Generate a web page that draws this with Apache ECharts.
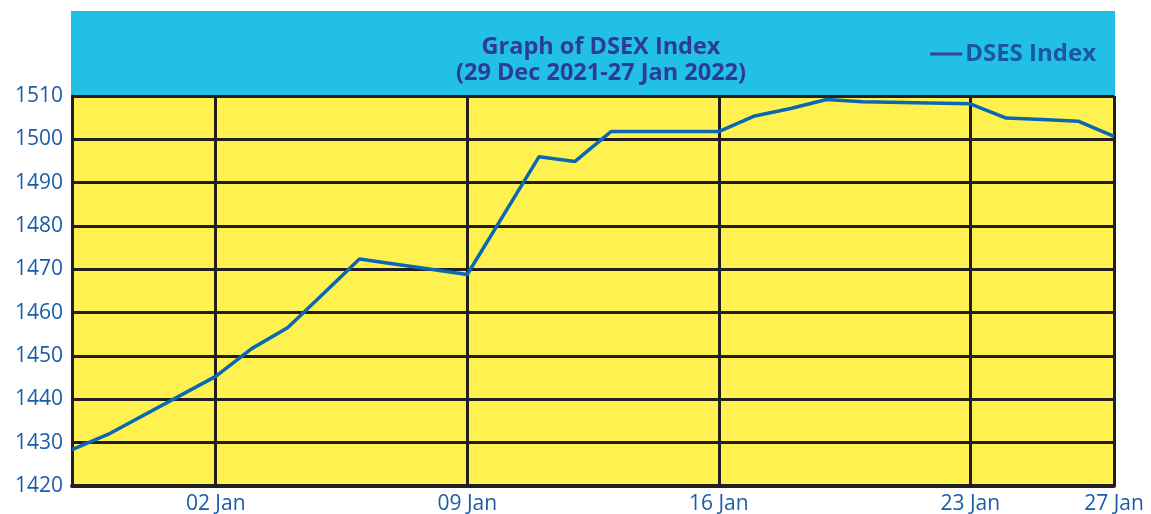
<!DOCTYPE html>
<html><head><meta charset="utf-8">
<script src="https://cdn.jsdelivr.net/npm/echarts@6/dist/echarts.min.js"></script>
<style>html,body{margin:0;padding:0;background:#fff}#c{width:1151px;height:514px}</style>
</head><body><div id="c"></div>
<script>
const dates = ['2021-12-29','2021-12-30','2022-01-02','2022-01-03','2022-01-04','2022-01-05','2022-01-06',
  '2022-01-09','2022-01-10','2022-01-11','2022-01-12','2022-01-13','2022-01-16','2022-01-17','2022-01-18',
  '2022-01-19','2022-01-20','2022-01-23','2022-01-24','2022-01-25','2022-01-26','2022-01-27'];
const dsexValues = [1428.4,1431.9,1445.3,1451.7,1456.5,1464.4,1472.4,
  1468.8,1482.4,1496.0,1494.9,1501.8,1501.8,1505.4,1507.1,
  1509.2,1508.7,1508.2,1504.9,1504.6,1504.2,1500.7];
const xTickDates = ['2022-01-02','2022-01-09','2022-01-16','2022-01-23','2022-01-27'];
const xTickLabels = ['02 Jan','09 Jan','16 Jan','23 Jan','27 Jan'];
const gridLineDates = ['2022-01-02','2022-01-09','2022-01-16','2022-01-23','2022-01-27'];
const yMin = 1420, yMax = 1510, yStep = 10;
const seriesName = 'DSES Index';
const titleText = 'Graph of DSEX Index\n(29 Dec 2021-27 Jan 2022)';

const day0 = Date.parse(dates[0]);
const toDay = d => Math.round((Date.parse(d) - day0) / 86400000);
const points = dates.map((d, i) => [toDay(d), dsexValues[i]]);
const tickDays = xTickDates.map(toDay);
const xMax = toDay(dates[dates.length - 1]);

const FONT = 'Open Sans';
const chart = echarts.init(document.getElementById('c'), null, {renderer: 'canvas'});
chart.setOption({
  animation: false,
  backgroundColor: '#ffffff',
  graphic: [{
    type: 'rect', z: -10, silent: true,
    shape: {x: 71, y: 11, width: 1044, height: 85},
    style: {fill: '#22C0E5'}
  }],
  title: {
    text: titleText,
    left: 596, top: 29, textAlign: 'center',
    textStyle: {fontFamily: FONT, fontSize: 23.5, fontWeight: 'bold', color: '#2E3A97', lineHeight: 26}
  },
  legend: {
    right: 50, top: 37,
    icon: 'rect', itemWidth: 32, itemHeight: 3, itemGap: 10,
    data: [{name: seriesName, itemStyle: {color: '#3D3F97'}}],
    textStyle: {fontFamily: FONT, fontSize: 24, fontWeight: 'bold', color: '#1A55A6', padding: [0,0,0,-2]}
  },
  grid: {left: 72, right: 37, top: 96, bottom: 28, show: true, backgroundColor: '#FFF250', borderWidth: 0,
    containLabel: false, outerBoundsMode: 'none'},
  xAxis: {
    type: 'value', min: 0, max: xMax, interval: 1,
    axisLine: {show: true, lineStyle: {color: '#231F20', width: 4}},
    axisTick: {show: false},
    splitLine: {show: false},
    axisLabel: {
      fontFamily: FONT, fontSize: 21, color: '#1A5CA8', margin: 8,
      showMinLabel: true, showMaxLabel: true,
      formatter: v => { const i = tickDays.indexOf(v); return i >= 0 ? xTickLabels[i] : ''; }
    }
  },
  yAxis: {
    type: 'value', min: yMin, max: yMax, interval: yStep,
    axisLine: {show: true, lineStyle: {color: '#231F20', width: 3}},
    axisTick: {show: false},
    splitLine: {show: true, lineStyle: {color: '#231F20', width: 3}},
    axisLabel: {fontFamily: FONT, fontSize: 21, color: '#1A5CA8', margin: 9, formatter: v => String(v)}
  },
  series: [{
    name: seriesName, type: 'line', data: points,
    showSymbol: false, symbol: 'none',
    lineStyle: {color: '#0A68B3', width: 3.5},
    itemStyle: {color: '#0A68B3'},
    z: 5,
    markLine: {
      silent: true, symbol: 'none', label: {show: false},
      lineStyle: {color: '#231F20', width: 3, type: 'solid'},
      data: gridLineDates.map(d => ({xAxis: toDay(d)})),
      z: 3
    }
  }]
});
</script></body></html>
